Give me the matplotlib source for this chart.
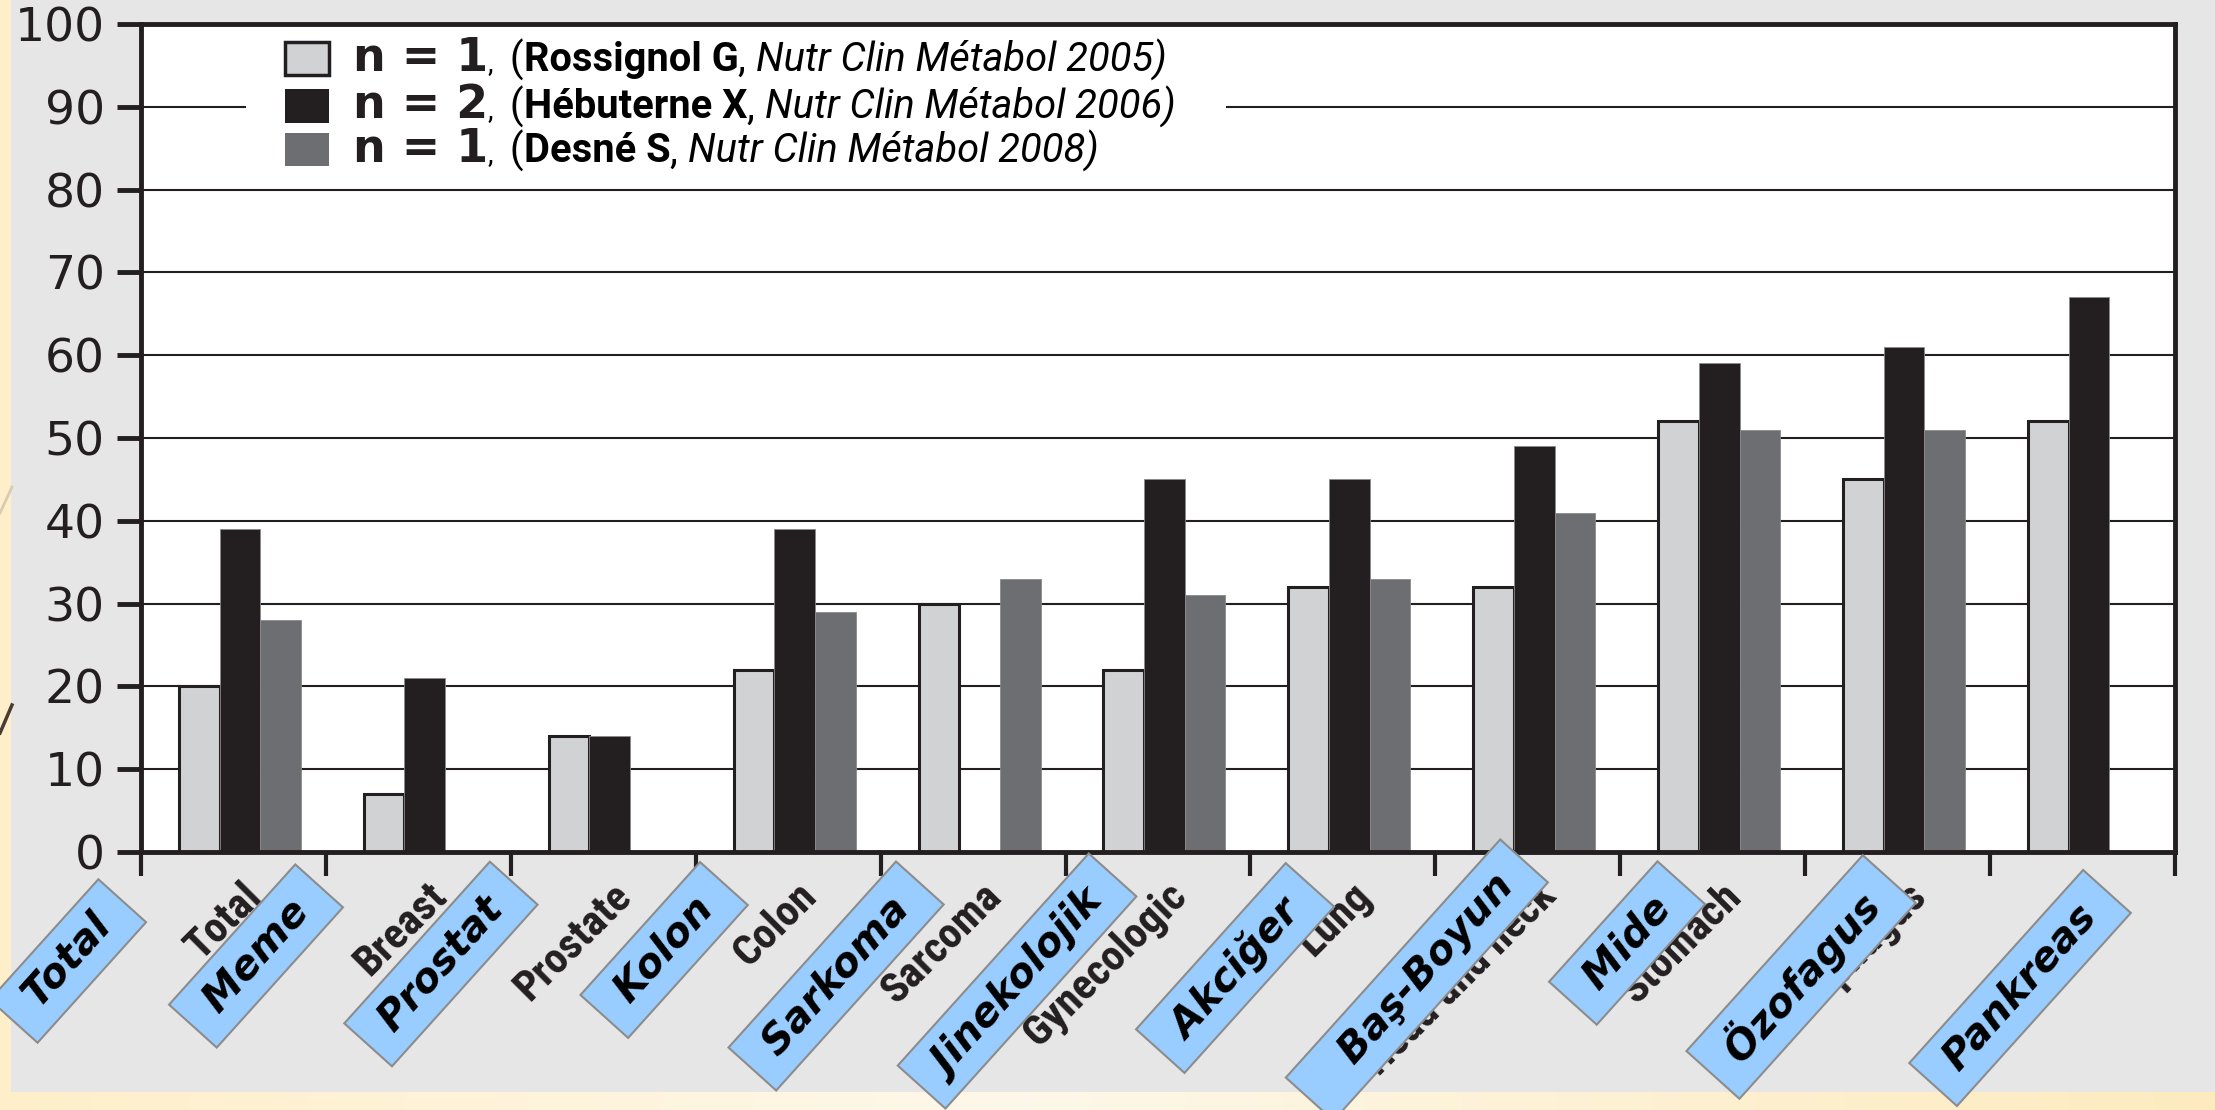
import matplotlib
matplotlib.use('Agg')
import matplotlib.pyplot as plt
import numpy as np
from matplotlib import font_manager
from matplotlib.offsetbox import TextArea, HPacker, AnnotationBbox
from matplotlib.patches import Rectangle

# ---------------- data ----------------
categories = ['Total', 'Breast', 'Prostate', 'Colon', 'Sarcoma', 'Gynecologic',
              'Lung', 'Head and neck', 'Stomach', 'Oesophagus', 'Pancreas']
turkish_labels = ['Total', 'Meme', 'Prostat', 'Kolon', 'Sarkoma', 'Jinekolojik',
                  'Akciğer', 'Baş-Boyun', 'Mide', 'Özofagus', 'Pankreas']
rossignol_2005 = [20, 7, 14, 22, 30, 22, 32, 32, 52, 45, 52]
hebuterne_2006 = [39, 21, 14, 39, None, 45, 45, 49, 59, 61, 67]
desne_2008 = [28, None, None, 29, 33, 31, 33, 41, 51, 51, None]
yticks = [0, 10, 20, 30, 40, 50, 60, 70, 80, 90, 100]
legend_n = ['n = 1', 'n = 2', 'n = 1']
legend_authors = ['Rossignol G', 'Hébuterne X', 'Desné S']
legend_refs = ['Nutr Clin Métabol 2005)', 'Nutr Clin Métabol 2006)', 'Nutr Clin Métabol 2008)']

# ---------------- layout / style (not data) ----------------
series = [rossignol_2005, hebuterne_2006, desne_2008]
colors = ['#D1D2D4', '#231F20', '#6D6E71']
offsets = [-0.185, 0.035, 0.255]
bar_w = 0.22
# positions of the overlaid Turkish label boxes (x in category units, y in px below axis)
tr_x = [-0.895, 0.122, 1.122, 2.329, 3.259, 4.238, 5.417, 6.40, 7.537, 8.478, 9.662]
tr_dy = [109, 104, 112, 98, 124, 129, 116, 128, 91, 125, 136]
tr_lead = [1, 1, 1, 1, 1, 1, 1, 3, 1, 1, 1]   # blank padding inside the boxes
tr_trail = [1, 1, 1, 1, 1, 1, 1, 1, 1, 1, 1]

avail = {f.name for f in font_manager.fontManager.ttflist}
COND = 'Liberation Sans'
for cand in ['Liberation Sans Narrow', 'Roboto Condensed', 'DejaVu Sans Condensed']:
    if cand in avail:
        COND = cand
        break
LEGF = 'Roboto' if 'Roboto' in avail else 'Liberation Sans'
SANS = 'DejaVu Sans'
BOXF = 'DejaVu Sans'
DARK = '#231F20'

W, H = 2215, 1110
fig = plt.figure(figsize=(W / 100, H / 100), dpi=100)

# slide background
bg = fig.add_axes([0, 0, 1, 1], zorder=-10)
bg.set_xlim(0, W)
bg.set_ylim(H, 0)
bg.axis('off')
grad = np.array([[0xFE, 0xEF, 0xCA], [0xFE, 0xF8, 0xEA], [0xFD, 0xEB, 0xBF]]) / 255.0
xs = np.linspace(0, 1, 256)
row = np.stack([np.interp(xs, [0, 0.45, 1], grad[:, c]) for c in range(3)], axis=1)
bg.imshow(row[np.newaxis, :, :], extent=[0, W, H, 0], aspect='auto', zorder=0)
bg.add_patch(Rectangle((11, 0), W - 11, 1092, facecolor='#E6E6E6', edgecolor='none', zorder=1))
bg.plot([0, 12], [513, 487], color='#D8CCB0', lw=2, zorder=2)
bg.plot([0, 12], [733, 705], color='#4B3B30', lw=2.5, zorder=2)

# main axes
L, R, T, B = 141, 2175, 24, 852
ax = fig.add_axes([L / W, 1 - B / H, (R - L) / W, (B - T) / H])
ax.set_facecolor('white')
ax.set_xlim(-0.5, len(categories) - 0.5)
ax.set_ylim(0, 100)
for s in ax.spines.values():
    s.set_linewidth(3.5)
    s.set_color(DARK)
ax.set_yticks(yticks)
ax.set_yticklabels([str(v) for v in yticks], fontsize=34, family=SANS, color=DARK)
ax.tick_params(axis='y', direction='out', length=17, width=3.5, color=DARK, pad=9)
ax.set_xticks(np.arange(-0.5, len(categories), 1.0))
ax.set_xticklabels([])
ax.tick_params(axis='x', direction='out', length=17, width=3, color=DARK)
ax.set_axisbelow(True)
ax.grid(axis='y', color=DARK, linewidth=1.5)

# legend blanking box over grid line
ax.add_patch(Rectangle((0.07, 82), 5.3, 17.5, facecolor='white', edgecolor='none', zorder=1.5))

# bars
x = np.arange(len(categories))
for k, (vals, col, off) in enumerate(zip(series, colors, offsets)):
    xi = [x[i] + off for i, v in enumerate(vals) if v is not None]
    hv = [v for v in vals if v is not None]
    if k == 0:
        ax.bar(xi, hv, width=bar_w, color=col, edgecolor=DARK, linewidth=2.2, zorder=2)
    else:
        ax.bar(xi, hv, width=bar_w, color=col, edgecolor='#8a8a8a', linewidth=0.6, zorder=2)

# legend (manual, mixed styles)
leg_y = [95.8, 90.1, 84.8]
for k in range(3):
    ec = DARK if k == 0 else 'none'
    ax.add_patch(Rectangle((0.28, leg_y[k] - 2.0), 0.235, 4.0, facecolor=colors[k],
                           edgecolor=ec, linewidth=2.5, zorder=3))
    pieces = [
        TextArea(legend_n[k], textprops=dict(fontsize=33, weight='bold', family='DejaVu Sans', color=DARK)),
        TextArea(', ', textprops=dict(fontsize=20, family=LEGF, color='black')),
        TextArea(' (', textprops=dict(fontsize=28.7, family=LEGF, color='black')),
        TextArea(legend_authors[k], textprops=dict(fontsize=28.7, weight='bold', family=LEGF, color='black')),
        TextArea(', ', textprops=dict(fontsize=28.7, family=LEGF, color='black')),
        TextArea(legend_refs[k], textprops=dict(fontsize=28.7, style='italic', family=LEGF, color='black')),
    ]
    pack = HPacker(children=pieces, align='baseline', pad=0, sep=0)
    ab = AnnotationBbox(pack, (0.645, leg_y[k]), xycoords='data', box_alignment=(0, 0.5),
                        frameon=False, pad=0, zorder=4)
    ax.add_artist(ab)

# English category labels
for i, cat in enumerate(categories):
    ax.annotate(cat, xy=(i + 0.12, 0), xycoords=('data', 'axes fraction'),
                xytext=(0, -38), textcoords='offset pixels', rotation=45,
                ha='right', va='center', rotation_mode='anchor', fontsize=31,
                weight='bold', family=COND, color=DARK, annotation_clip=False, zorder=3)

# Turkish label boxes overlaid
for lab, tx, dy, nl, nt in zip(turkish_labels, tr_x, tr_dy, tr_lead, tr_trail):
    ax.annotate(' ' * nl + lab + ' ' * nt, xy=(tx, 0), xycoords=('data', 'axes fraction'),
                xytext=(0, -dy), textcoords='offset pixels', rotation=48,
                ha='center', va='center', rotation_mode='anchor', fontsize=29,
                style='oblique', weight='bold', family=BOXF, color='black',
                bbox=dict(boxstyle='square,pad=0.3', facecolor='#99CCFF',
                          edgecolor='#8C8C8C', linewidth=1.5),
                annotation_clip=False, zorder=6)

fig.savefig('out.png', dpi=100)
